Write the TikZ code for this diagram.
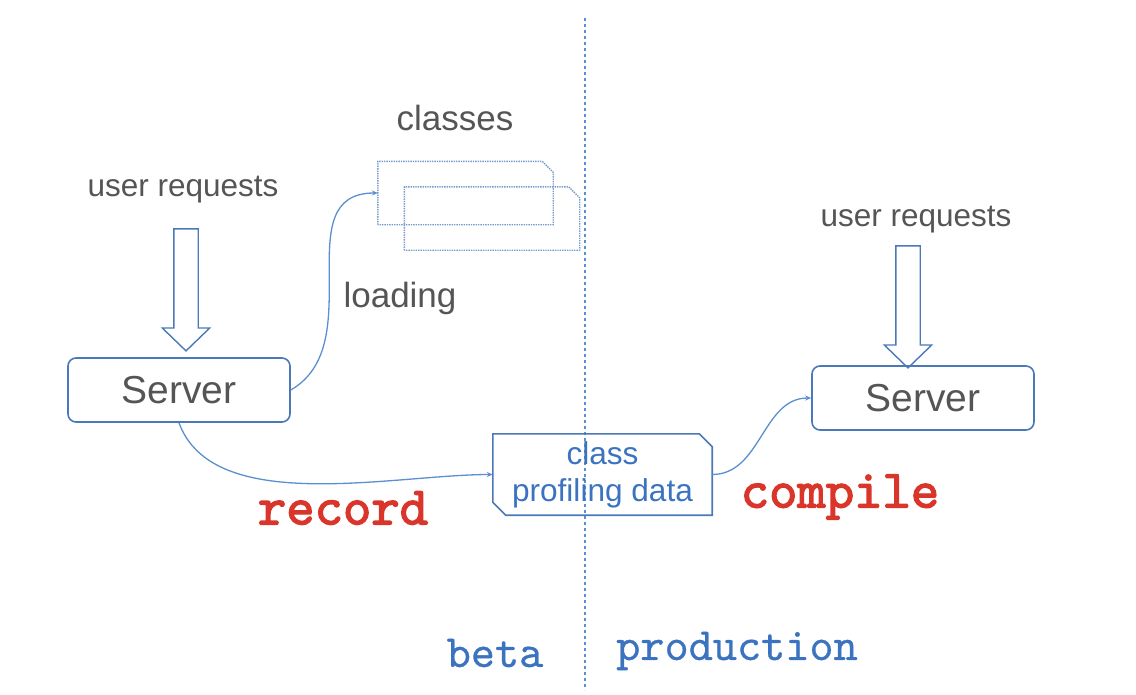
\documentclass[tikz,border=0pt]{standalone}
\usepackage{fontspec}
\setmainfont{Liberation Sans}
\newfontfamily\labfont{lmmono10-regular.otf}[FakeBold=0.6]
\newfontfamily\recfont{lmmono10-regular.otf}[FakeBold=2.5]
\usetikzlibrary{shapes.arrows,arrows.meta}
\definecolor{boxblue}{HTML}{4A78B8}
\definecolor{lineblue}{HTML}{5B8FD0}
\definecolor{txtgrey}{HTML}{555555}
\definecolor{txtblue}{HTML}{3B73C0}
\definecolor{recred}{HTML}{D9352A}
\tikzset{
  server/.style={draw=boxblue,line width=1.6pt,rounded corners=8pt,minimum width=222pt,minimum height=64pt,
    text=txtgrey,font=\fontsize{39}{44}\selectfont},
  reqarrow/.style={single arrow,draw=boxblue,line width=1.4pt,shape border rotate=270,inner sep=11.5pt,
    minimum width=46pt,minimum height=122pt,single arrow head extend=11.5pt,single arrow tip angle=92},
  classbox/.style={minimum width=175pt,minimum height=63pt,inner sep=0pt},
  classline/.style={draw=boxblue!75,densely dotted,line width=1.4pt},
  graylabel/.style={text=txtgrey},
  conn/.style={lineblue,line width=1.3pt,-{Stealth[length=6pt,width=5pt]}},
  monolabel/.style={font=\labfont\fontsize{46}{50}\selectfont,text=txtblue},
  redlabel/.style={font=\recfont\fontsize{54}{58}\selectfont,text=recred}
}
\begin{document}
\begin{tikzpicture}[x=1pt,y=-1pt]
\useasboundingbox (0,0) rectangle (1136,694);
% beta / production border
\draw[lineblue,line width=1.4pt,dash pattern=on 3pt off 3pt] (585,18) -- (585,690);
% servers
\node[server] (lserver) at (179,390) {Server};
\node[server] (rserver) at (923,398) {Server};
% requests
\node[reqarrow] (lreq) at (186,284) {};
\node[reqarrow] (rreq) at (908,301) {};
\node[graylabel,font=\fontsize{31.5}{36}\selectfont] (lreqtxt) at (183,190) {user requests};
\node[graylabel,font=\fontsize{31.5}{36}\selectfont] (rreqtxt) at (916,220) {user requests};
% classes
\node[classbox] (class2) at (492,218.5) {};
\node[classbox] (class1) at (465.5,193) {};
\foreach \c in {class2,class1}
  \draw[classline] (\c.south west) -- (\c.north west) -- ([xshift=-11pt]\c.north east)
    -- ([yshift=-11pt]\c.north east) -- (\c.south east) -- cycle;
\node[graylabel,font=\fontsize{35}{40}\selectfont] (classtxt) at (455,118) {classes};
\node[graylabel,font=\fontsize{35}{40}\selectfont] (loadtxt) at (400,298) {loading};
\draw[conn] (lserver.east) to[out=30,in=180,looseness=1.1] (class1.west);
% profiling data
\node[text=txtblue,align=center,font=\fontsize{31.6}{37}\selectfont,minimum width=219pt,minimum height=81pt,
  inner sep=0pt] (prof) at (602.5,474.5) {class\\profiling data};
\draw[boxblue,line width=1.6pt] ([yshift=13pt]prof.south west) -- (prof.north west) -- ([xshift=-13pt]prof.north east)
  -- ([yshift=-13pt]prof.north east) -- (prof.south east) -- ([xshift=13pt]prof.south west) -- cycle;
\draw[conn] (lserver.south) to[out=-70,in=180,looseness=0.8] (prof.west);
\draw[conn] (prof.east) to[out=0,in=180] (rserver.west);
\node[redlabel] (rectxt) at (343,508) {record};
\node[redlabel] (comptxt) at (840,497) {compile};
\node[monolabel] (betatxt) at (495,653) {beta};
\node[monolabel] (prodtxt) at (737,651) {production};
\end{tikzpicture}
\end{document}
